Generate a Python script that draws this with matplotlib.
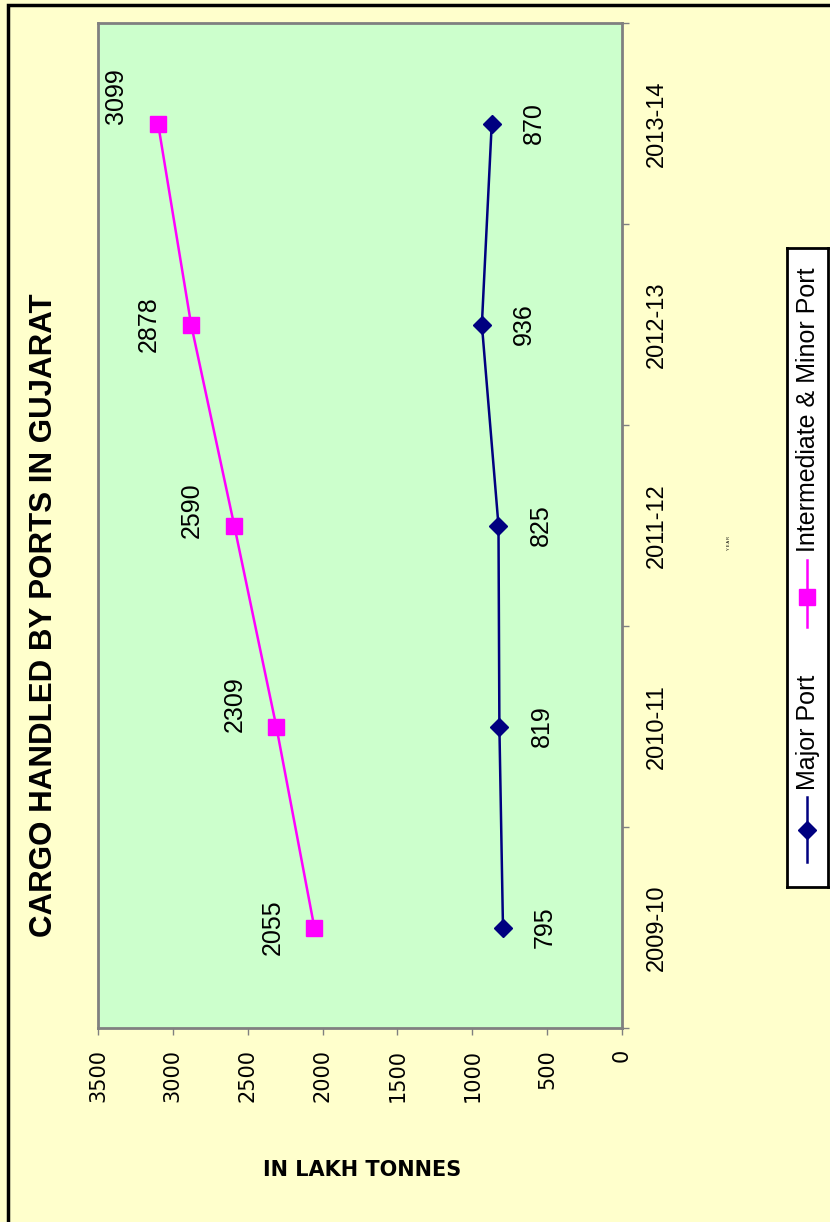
import matplotlib
matplotlib.use('Agg')
import matplotlib.pyplot as plt
from matplotlib.patches import Rectangle
from matplotlib.lines import Line2D

# Данные
years = ['2009-10', '2010-11', '2011-12', '2012-13', '2013-14']
major_port = [795, 819, 825, 936, 870]
minor_port = [2055, 2309, 2590, 2878, 3099]
value_ticks = [0, 500, 1000, 1500, 2000, 2500, 3000, 3500]

# Сдвиг подписей малых портов по вертикали (пиксели)
minor_label_dy = [0, 22, 15, 0, 27]

W, H = 830, 1222
BG = '#FFFFCC'
PLOT_BG = '#CCFFCC'
NAVY = '#000080'
MAGENTA = '#FF00FF'
SANS = ['Liberation Sans', 'DejaVu Sans']

fig = plt.figure(figsize=(W / 100, H / 100), dpi=100, facecolor=BG)

# Рамка вокруг всей диаграммы
fig.patches.append(Rectangle((8 / W, -0.1), 1.2, 1 - 5 / H + 0.1,
                             transform=fig.transFigure, fill=False,
                             edgecolor='black', linewidth=2.5))

# Область графика (диаграмма повернута на 90 градусов)
ax = fig.add_axes([98 / W, 1 - 1028 / H, (622 - 98) / W, (1028 - 23) / H])
ax.set_facecolor(PLOT_BG)
for s in ax.spines.values():
    s.set_color('#808080')
    s.set_linewidth(2)

pos = list(range(len(years)))
ax.plot(major_port, pos, color=NAVY, linewidth=1.8, marker='D',
        markersize=9, markerfacecolor=NAVY, markeredgecolor=NAVY)
ax.plot(minor_port, pos, color=MAGENTA, linewidth=1.8, marker='s',
        markersize=11, markerfacecolor=MAGENTA, markeredgecolor=MAGENTA)

ax.set_xlim(3500, 0)
ax.set_ylim(-0.5, len(years) - 0.5)

# Ось значений снизу
ax.set_xticks(value_ticks)
ax.set_xticklabels([str(v) for v in value_ticks], rotation=90,
                   fontsize=15, family='DejaVu Sans')
ax.tick_params(axis='x', direction='out', length=5, width=1,
               color='#808080', pad=10)

# Ось категорий справа
ax.yaxis.tick_right()
ax.set_yticks(pos)
ax.set_yticklabels(years, rotation=90, fontsize=17, family=SANS,
                   va='center')
ax.set_yticks([p - 0.5 for p in pos] + [len(years) - 0.5], minor=True)
ax.tick_params(axis='y', which='major', length=0, pad=17)
ax.tick_params(axis='y', which='minor', direction='out', length=5,
               width=1, color='#808080')

# Подписи значений
for i, v in enumerate(major_port):
    ax.annotate(str(v), (v, i), xytext=(42, 0), textcoords='offset pixels',
                rotation=90, ha='center', va='center', fontsize=18,
                family=SANS)
for i, v in enumerate(minor_port):
    ax.annotate(str(v), (v, i), xytext=(-42, minor_label_dy[i]),
                textcoords='offset pixels', rotation=90, ha='center',
                va='center', fontsize=18, family=SANS)

# Заголовок и подписи осей
fig.text(44 / W, 1 - 615 / H, 'CARGO HANDLED BY PORTS IN GUJARAT',
         rotation=90, ha='center', va='center', fontsize=22.5,
         fontweight='bold', family=SANS)
fig.text(362 / W, 1 - 1170 / H, 'IN LAKH TONNES', ha='center',
         va='center', fontsize=15, fontweight='bold', family='DejaVu Sans')
fig.text(729 / W, 1 - 543 / H, 'Y E A R', rotation=90, ha='center',
         va='center', fontsize=3, family=SANS)

# Легенда (вручную, повернутая)
lg = fig.add_axes([787 / W, 1 - 887 / H, 41 / W, (887 - 248) / H])
lg.set_facecolor('white')
lg.set_xlim(787, 828)
lg.set_ylim(887, 248)
lg.set_xticks([])
lg.set_yticks([])
for s in lg.spines.values():
    s.set_color('black')
    s.set_linewidth(2)
lg.add_line(Line2D([807, 807], [797, 862], color=NAVY, linewidth=1.8))
lg.plot([807], [830], marker='D', markersize=9, color=NAVY)
lg.text(808, 790, 'Major Port', rotation=90, ha='center', va='bottom',
        fontsize=18, family=SANS)
lg.add_line(Line2D([807, 807], [560, 627], color=MAGENTA, linewidth=1.8))
lg.plot([807], [597], marker='s', markersize=11, color=MAGENTA)
lg.text(808, 552, 'Intermediate & Minor Port', rotation=90, ha='center',
        va='bottom', fontsize=18, family=SANS)

fig.savefig('out.png', dpi=100, facecolor=BG)
